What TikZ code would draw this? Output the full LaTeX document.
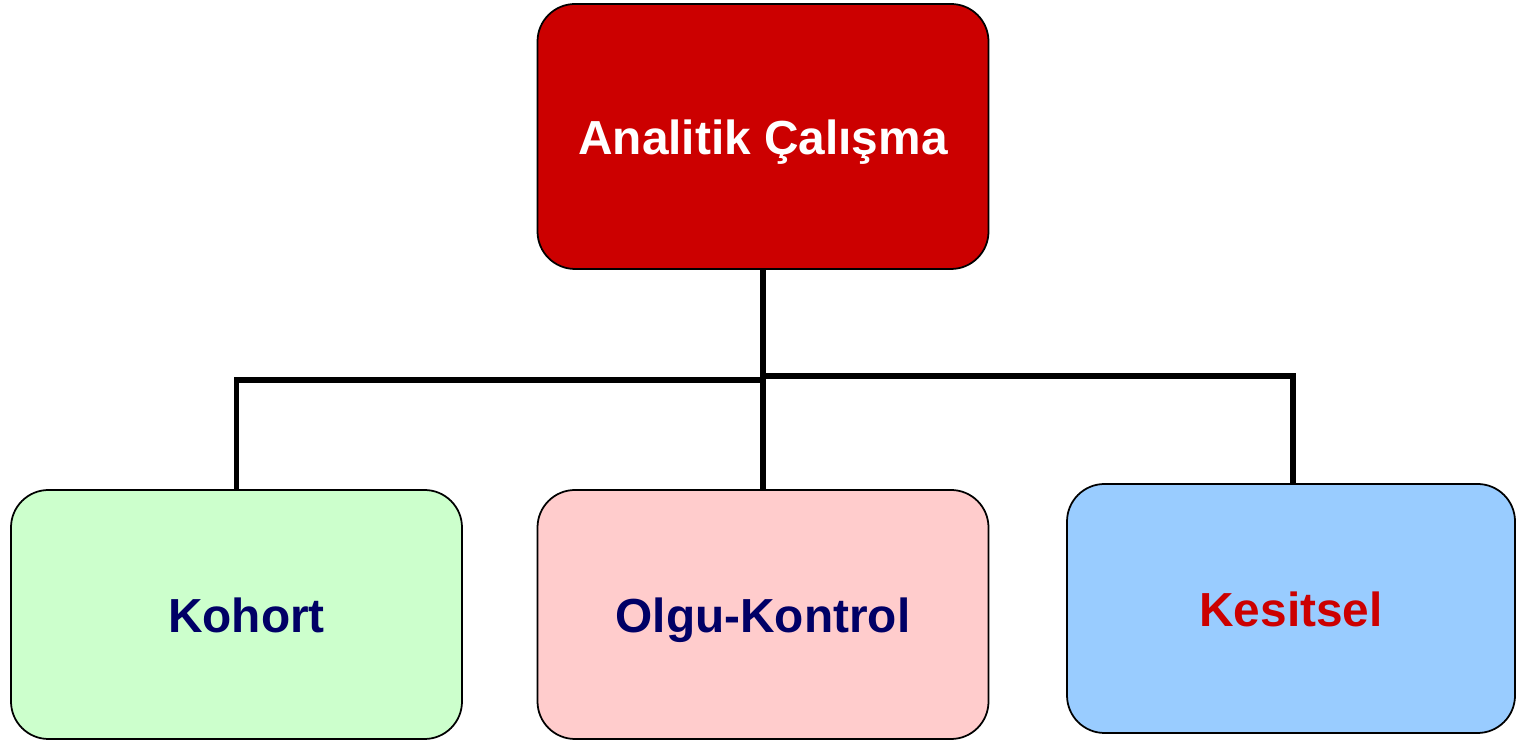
\documentclass[tikz,border=0pt]{standalone}
\usepackage{fontspec}
\setmainfont{Liberation Sans}
\definecolor{ana_red}{RGB}{204, 0, 0}
\definecolor{ana_navy}{RGB}{0, 0, 102}
\definecolor{ana_green}{RGB}{204, 255, 204}
\definecolor{ana_pink}{RGB}{255, 204, 204}
\definecolor{ana_blue}{RGB}{153, 204, 255}
\usepackage{tikz}
\usetikzlibrary{positioning}

\begin{document}
\begin{tikzpicture}[
    studybox/.style={draw=black, line width=1pt, rounded corners=0.75cm,
      minimum width=9.02cm, minimum height=4.98cm, inner sep=0pt,
      text height=0.74cm, text depth=0cm,
      font=\fontsize{27.2}{33}\selectfont\bfseries},
    link/.style={draw=black, line width=3.3pt}
  ]
    \useasboundingbox (0,0) rectangle (30.32,14.82);

    \node[studybox, fill=ana_red, text=white, minimum height=5.30cm]
      (analitik) at (15.26, 12.09) {Analitik Çalışma};

    \node[studybox, fill=ana_green, text=ana_navy]
      (kohort)   at (4.73, 2.53)   {\hspace*{0.4cm}Kohort};
    \node[studybox, fill=ana_pink, text=ana_navy]
      (olgu)     at (15.26, 2.53)  {Olgu-Kontrol};
    \node[studybox, fill=ana_blue, text=ana_red, minimum width=8.96cm]
      (kesitsel) at (25.82, 2.65)  {Kesitsel};

    % branch points on the trunk
    \coordinate (jleft)  at (15.26, 7.22);
    \coordinate (jright) at (15.26, 7.30);

    \draw[link] (analitik.south) -- (olgu.north);
    \draw[link] (jleft)  -| (kohort.north);
    \draw[link] (jright) -| ([xshift=0.04cm]kesitsel.north);
  \end{tikzpicture}
\end{document}
